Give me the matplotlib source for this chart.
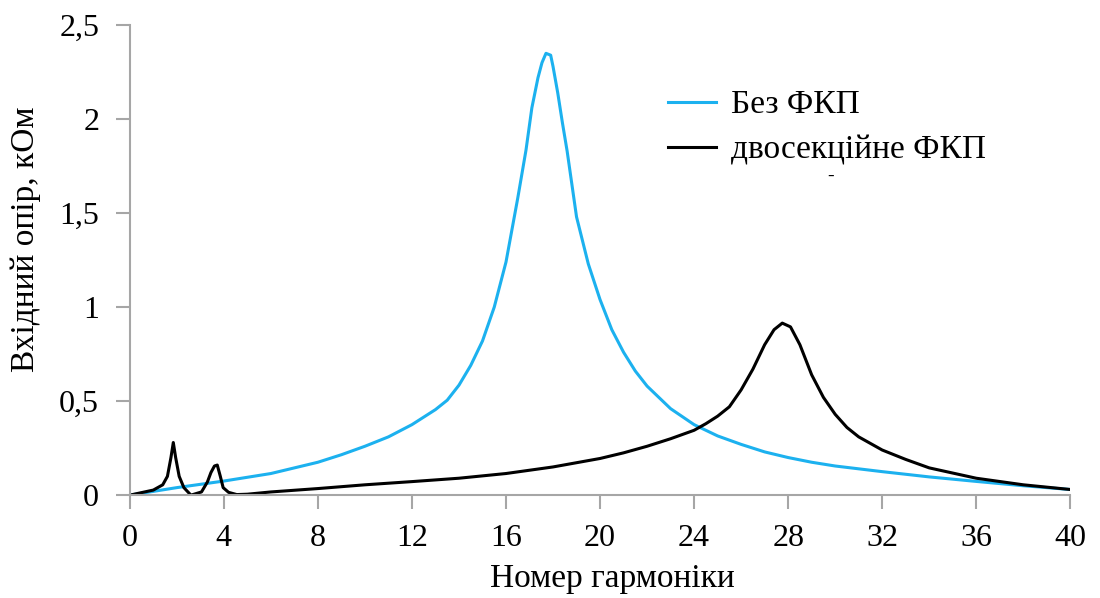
import numpy as np
import matplotlib.pyplot as plt

plt.rcParams['font.family'] = ['Liberation Serif', 'DejaVu Serif']

# Без ФКП
x_bez = [0, 2, 4, 6, 8, 9, 10, 11, 12, 13, 13.5, 14, 14.5, 15, 15.5, 16, 16.5,
         16.85, 17.1, 17.36, 17.53, 17.7, 17.9, 18.0, 18.2, 18.4, 18.6, 19.0,
         19.5, 20, 20.5, 21, 21.5, 22, 23, 24, 25, 26, 27, 28, 29, 30, 32, 34,
         36, 38, 40]
z_bez = [0, 0.04, 0.075, 0.115, 0.175, 0.215, 0.26, 0.31, 0.375, 0.455, 0.505, 0.585,
         0.69, 0.82, 1.0, 1.24, 1.58, 1.835, 2.06, 2.22, 2.30, 2.35, 2.34, 2.28,
         2.14, 1.98, 1.83, 1.48, 1.23, 1.04, 0.88, 0.76, 0.66, 0.58, 0.46, 0.375,
         0.315, 0.27, 0.23, 0.2, 0.175, 0.155, 0.125, 0.097, 0.073, 0.05, 0.03]

# двосекційне ФКП
x_dv = [0, 1.0, 1.4, 1.6, 1.75, 1.85, 1.95, 2.1, 2.3, 2.6, 3.05, 3.3, 3.45, 3.6,
        3.72, 3.85, 3.97, 4.2, 4.55, 5, 6, 8, 10, 12, 14, 16, 18, 20, 21, 22, 23,
        24, 24.5, 25, 25.5, 26, 26.5, 27, 27.4, 27.75, 28.1, 28.5, 29, 29.5, 30,
        30.5, 31, 32, 33, 34, 36, 38, 40]
z_dv = [0, 0.027, 0.055, 0.1, 0.2, 0.28, 0.2, 0.1, 0.04, 0.0, 0.017, 0.07, 0.12,
        0.155, 0.16, 0.1, 0.04, 0.015, 0.003, 0.005, 0.017, 0.035, 0.055, 0.072,
        0.09, 0.115, 0.15, 0.195, 0.225, 0.26, 0.3, 0.345, 0.38, 0.42, 0.47,
        0.56, 0.67, 0.8, 0.88, 0.915, 0.895, 0.8, 0.64, 0.52, 0.43, 0.36, 0.31,
        0.24, 0.19, 0.145, 0.09, 0.055, 0.03]

x_ticks = np.arange(0, 41, 4)
y_ticks = [0, 0.5, 1, 1.5, 2, 2.5]
y_labels = ['0', '0,5', '1', '1,5', '2', '2,5']

fig = plt.figure(figsize=(11, 5.98), dpi=100)
ax = fig.add_axes([0.118, 0.172, 0.855, 0.786])

ax.plot(x_bez, z_bez, color='#1cb1ef', lw=2.2, label='Без ФКП')
ax.plot(x_dv, z_dv, color='black', lw=2.2, label='двосекційне ФКП')

ax.set_xlim(0, 40)
ax.set_ylim(0, 2.5)
ax.set_xticks(x_ticks)
ax.set_yticks(y_ticks)
ax.set_yticklabels(y_labels)

for s in ['top', 'right']:
    ax.spines[s].set_visible(False)
for s in ['left', 'bottom']:
    ax.spines[s].set_color('#a6a6a6')
    ax.spines[s].set_linewidth(1.5)
ax.tick_params(axis='both', colors='#a6a6a6', width=1.5, labelsize=23,
               labelcolor='black')
ax.tick_params(axis='x', length=10, pad=11)
ax.tick_params(axis='y', length=10, pad=12)

ax.set_xlabel('Номер гармоніки', fontsize=24)
ax.set_ylabel('Вхідний опір, кОм', fontsize=24)
ax.xaxis.set_label_coords(0.513, -0.145)
ax.yaxis.set_label_coords(-0.094, 0.545)

ax.legend(loc='upper left', bbox_to_anchor=(0.607, 0.85), bbox_transform=fig.transFigure,
          frameon=False, fontsize=24, handlelength=1.45, handletextpad=0.45,
          labelspacing=0.45, borderpad=0, borderaxespad=0)

# маленька риска під легендою
fig.text(0.755, 0.705, '-', fontsize=14, ha='center', va='center')

fig.savefig('out.png', dpi=100)
